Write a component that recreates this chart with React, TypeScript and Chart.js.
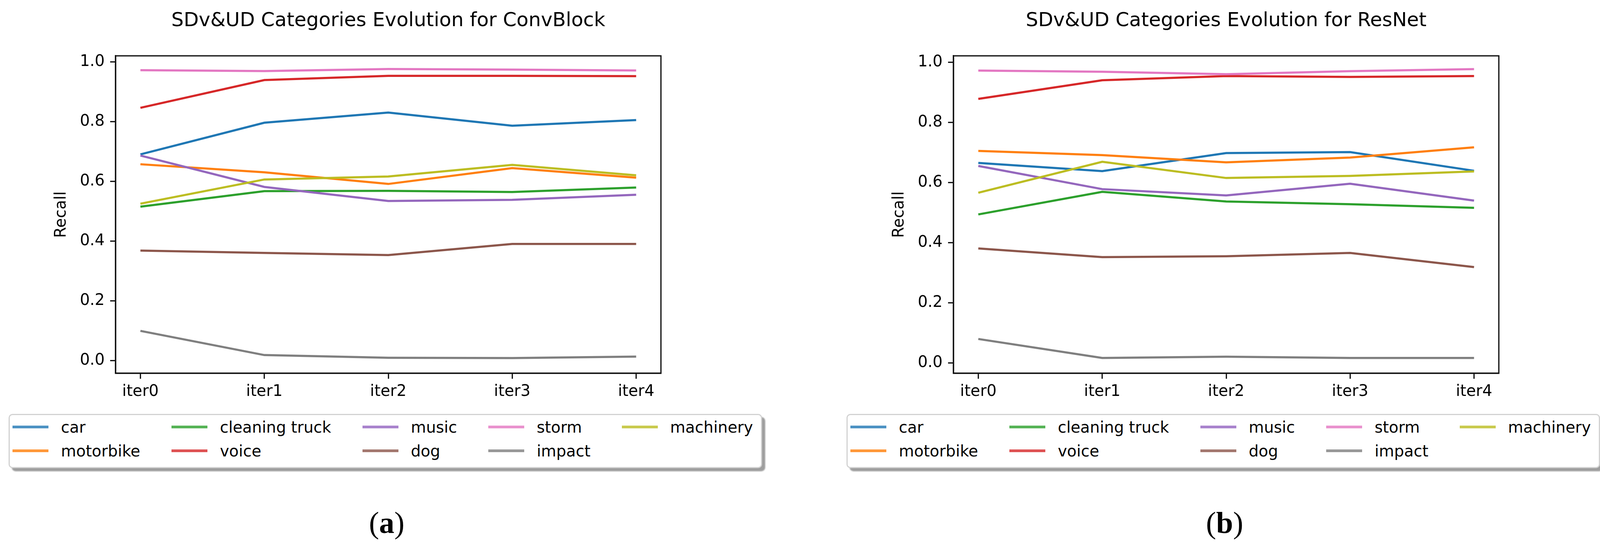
import React, { useEffect, useRef } from "react";
import { Chart, registerables } from "chart.js";

Chart.register(...registerables);

// ---------- data ----------
const xLabels = ["iter0", "iter1", "iter2", "iter3", "iter4"];
const xTickValues = [0, 1, 2, 3, 4];
const yTickValues = [0, 0.2, 0.4, 0.6, 0.8, 1.0];

const categories = ["car", "motorbike", "cleaning truck", "voice", "music", "dog", "storm", "impact", "machinery"];
const seriesColors = ["#1f77b4", "#ff7f0e", "#2ca02c", "#d62728", "#9467bd", "#8c564b", "#e377c2", "#7f7f7f", "#bcbd22"];
const legendColors = ["#4c92c3", "#ff9839", "#56b356", "#de5253", "#a983cd", "#a3786f", "#e992ce", "#989898", "#c9ca4e"];

const convCar = [0.690, 0.796, 0.830, 0.786, 0.805];
const convMotorbike = [0.657, 0.630, 0.591, 0.644, 0.612];
const convCleaningTruck = [0.515, 0.567, 0.568, 0.564, 0.579];
const convVoice = [0.846, 0.939, 0.953, 0.953, 0.952];
const convMusic = [0.686, 0.581, 0.534, 0.538, 0.555];
const convDog = [0.368, 0.360, 0.353, 0.390, 0.390];
const convStorm = [0.972, 0.969, 0.976, 0.974, 0.971];
const convImpact = [0.099, 0.018, 0.009, 0.008, 0.013];
const convMachinery = [0.525, 0.606, 0.616, 0.655, 0.620];

const resCar = [0.665, 0.638, 0.698, 0.701, 0.639];
const resMotorbike = [0.705, 0.691, 0.667, 0.683, 0.717];
const resCleaningTruck = [0.494, 0.569, 0.537, 0.528, 0.516];
const resVoice = [0.878, 0.940, 0.954, 0.951, 0.954];
const resMusic = [0.655, 0.578, 0.557, 0.596, 0.540];
const resDog = [0.381, 0.352, 0.355, 0.366, 0.319];
const resStorm = [0.972, 0.968, 0.960, 0.970, 0.977];
const resImpact = [0.080, 0.017, 0.021, 0.017, 0.017];
const resMachinery = [0.566, 0.669, 0.615, 0.622, 0.637];

const convSeries = [convCar, convMotorbike, convCleaningTruck, convVoice, convMusic, convDog, convStorm, convImpact, convMachinery];
const resSeries = [resCar, resMotorbike, resCleaningTruck, resVoice, resMusic, resDog, resStorm, resImpact, resMachinery];

const convYRange = [-0.043, 1.02];
const resYRange = [-0.034, 1.021];

const convTitle = "SDv&UD Categories Evolution for ConvBlock";
const resTitle = "SDv&UD Categories Evolution for ResNet";
const yAxisLabel = "Recall";

// ---------- layout ----------
const FONT = "'DejaVu Sans', sans-serif";
const CANVAS_W = 1988;
const CANVAS_H = 1040;
const AXIS_LEFT = 296;
const AXIS_BOTTOM = 956;
const PANEL_SHIFT = 2145;

const framePlugin = {
  id: "frameBox",
  afterDraw(chart: any) {
    const { ctx, chartArea } = chart;
    ctx.save();
    ctx.strokeStyle = "#111";
    ctx.lineWidth = 3.2;
    ctx.strokeRect(chartArea.left, chartArea.top, chartArea.right - chartArea.left, chartArea.bottom - chartArea.top);
    ctx.restore();
  },
};

function Panel({ title, series, yRange, offset, caption }: any) {
  const ref = useRef<HTMLCanvasElement | null>(null);

  useEffect(() => {
    if (!ref.current) return;
    const datasets = categories.map((name, i) => ({
      label: name,
      data: series[i].map((v: number, j: number) => ({ x: xTickValues[j], y: v })),
      borderColor: seriesColors[i],
      backgroundColor: seriesColors[i],
      borderWidth: 5.5,
      pointRadius: 0,
      tension: 0,
      fill: false,
      order: categories.length - i,
    }));
    const chart = new Chart(ref.current, {
      type: "line",
      data: { datasets },
      plugins: [framePlugin],
      options: {
        animation: false,
        responsive: false,
        devicePixelRatio: 1,
        layout: { padding: 0 },
        plugins: {
          legend: { display: false },
          tooltip: { enabled: false },
          title: {
            display: true,
            text: title,
            color: "#000",
            font: { family: FONT, size: 50, weight: "normal", lineHeight: 1.2 },
            padding: { top: 24, bottom: 59 },
          },
        },
        scales: {
          x: {
            type: "linear",
            min: -0.2,
            max: 4.2,
            afterFit: (s: any) => { s.height = CANVAS_H - AXIS_BOTTOM; },
            afterBuildTicks: (s: any) => { s.ticks = xTickValues.map((v) => ({ value: v })); },
            ticks: {
              color: "#000",
              font: { family: FONT, size: 40 },
              padding: 10,
              maxRotation: 0,
              autoSkip: false,
              callback: (v: any) => xLabels[Math.round(Number(v))],
            },
            grid: { drawOnChartArea: false, drawTicks: true, tickLength: 14, tickWidth: 3.2, tickColor: "#111" },
            border: { display: true, color: "#111", width: 3.2 },
          },
          y: {
            type: "linear",
            position: "left",
            min: yRange[0],
            max: yRange[1],
            afterFit: (s: any) => { s.width = AXIS_LEFT; },
            afterBuildTicks: (s: any) => { s.ticks = yTickValues.map((v) => ({ value: v })); },
            ticks: {
              color: "#000",
              font: { family: FONT, size: 40 },
              padding: 14,
              callback: (v: any) => Number(v).toFixed(1),
            },
            grid: { drawOnChartArea: false, drawTicks: true, tickLength: 14, tickWidth: 3.2, tickColor: "#111" },
            border: { display: true, color: "#111", width: 3.2 },
            title: {
              display: true,
              text: yAxisLabel,
              color: "#000",
              font: { family: FONT, size: 40, lineHeight: 1.2 },
              padding: { top: 134, bottom: 0 },
            },
          },
          yRight: {
            type: "linear",
            position: "right",
            display: true,
            afterFit: (s: any) => { s.width = AXIS_LEFT; },
            ticks: { display: false },
            grid: { display: false, drawTicks: false },
            border: { display: false },
          },
        },
      },
    } as any);
    return () => chart.destroy();
  }, [title, series, yRange]);

  const order = [0, 1, 2, 3, 4, 5, 6, 7, 8];

  return (
    <>
      <canvas
        ref={ref}
        width={CANVAS_W}
        height={CANVAS_H}
        style={{ position: "absolute", left: offset, top: 0, width: CANVAS_W, height: CANVAS_H }}
      />
      <div
        style={{
          position: "absolute",
          left: 22 + offset,
          top: 1060,
          height: 139,
          boxSizing: "border-box",
          border: "3px solid #d2d2d2",
          borderRadius: 10,
          background: "#fff",
          boxShadow: "8px 8px 3px rgba(0,0,0,0.38)",
          padding: "0px 20px 11px 7px",
          display: "grid",
          gridTemplateRows: "61px 61px",
          gridAutoFlow: "column",
          columnGap: 80,
          fontFamily: FONT,
          fontSize: 40,
          color: "#000",
        }}
      >
        {order.map((i) => (
          <div key={i} style={{ display: "flex", alignItems: "center", whiteSpace: "nowrap" }}>
            <div style={{ width: 92, height: 7, background: legendColors[i], marginRight: 32, flex: "none" }} />
            <span style={{ lineHeight: "40px" }}>{categories[i]}</span>
          </div>
        ))}
      </div>
      <div
        style={{
          position: "absolute",
          left: offset + 990 - 150,
          width: 300,
          top: 1300,
          textAlign: "center",
          fontFamily: "'Liberation Serif', 'Times New Roman', serif",
          fontSize: 78,
          lineHeight: "78px",
          color: "#000",
        }}
      >
        (<b>{caption}</b>)
      </div>
    </>
  );
}

export default function App() {
  return (
    <div
      style={{
        position: "absolute",
        left: 0,
        top: 0,
        width: 4142,
        height: 1406,
        background: "#fff",
        overflow: "hidden",
      }}
    >
      <Panel title={convTitle} series={convSeries} yRange={convYRange} offset={0} caption="a" />
      <Panel title={resTitle} series={resSeries} yRange={resYRange} offset={PANEL_SHIFT} caption="b" />
    </div>
  );
}
